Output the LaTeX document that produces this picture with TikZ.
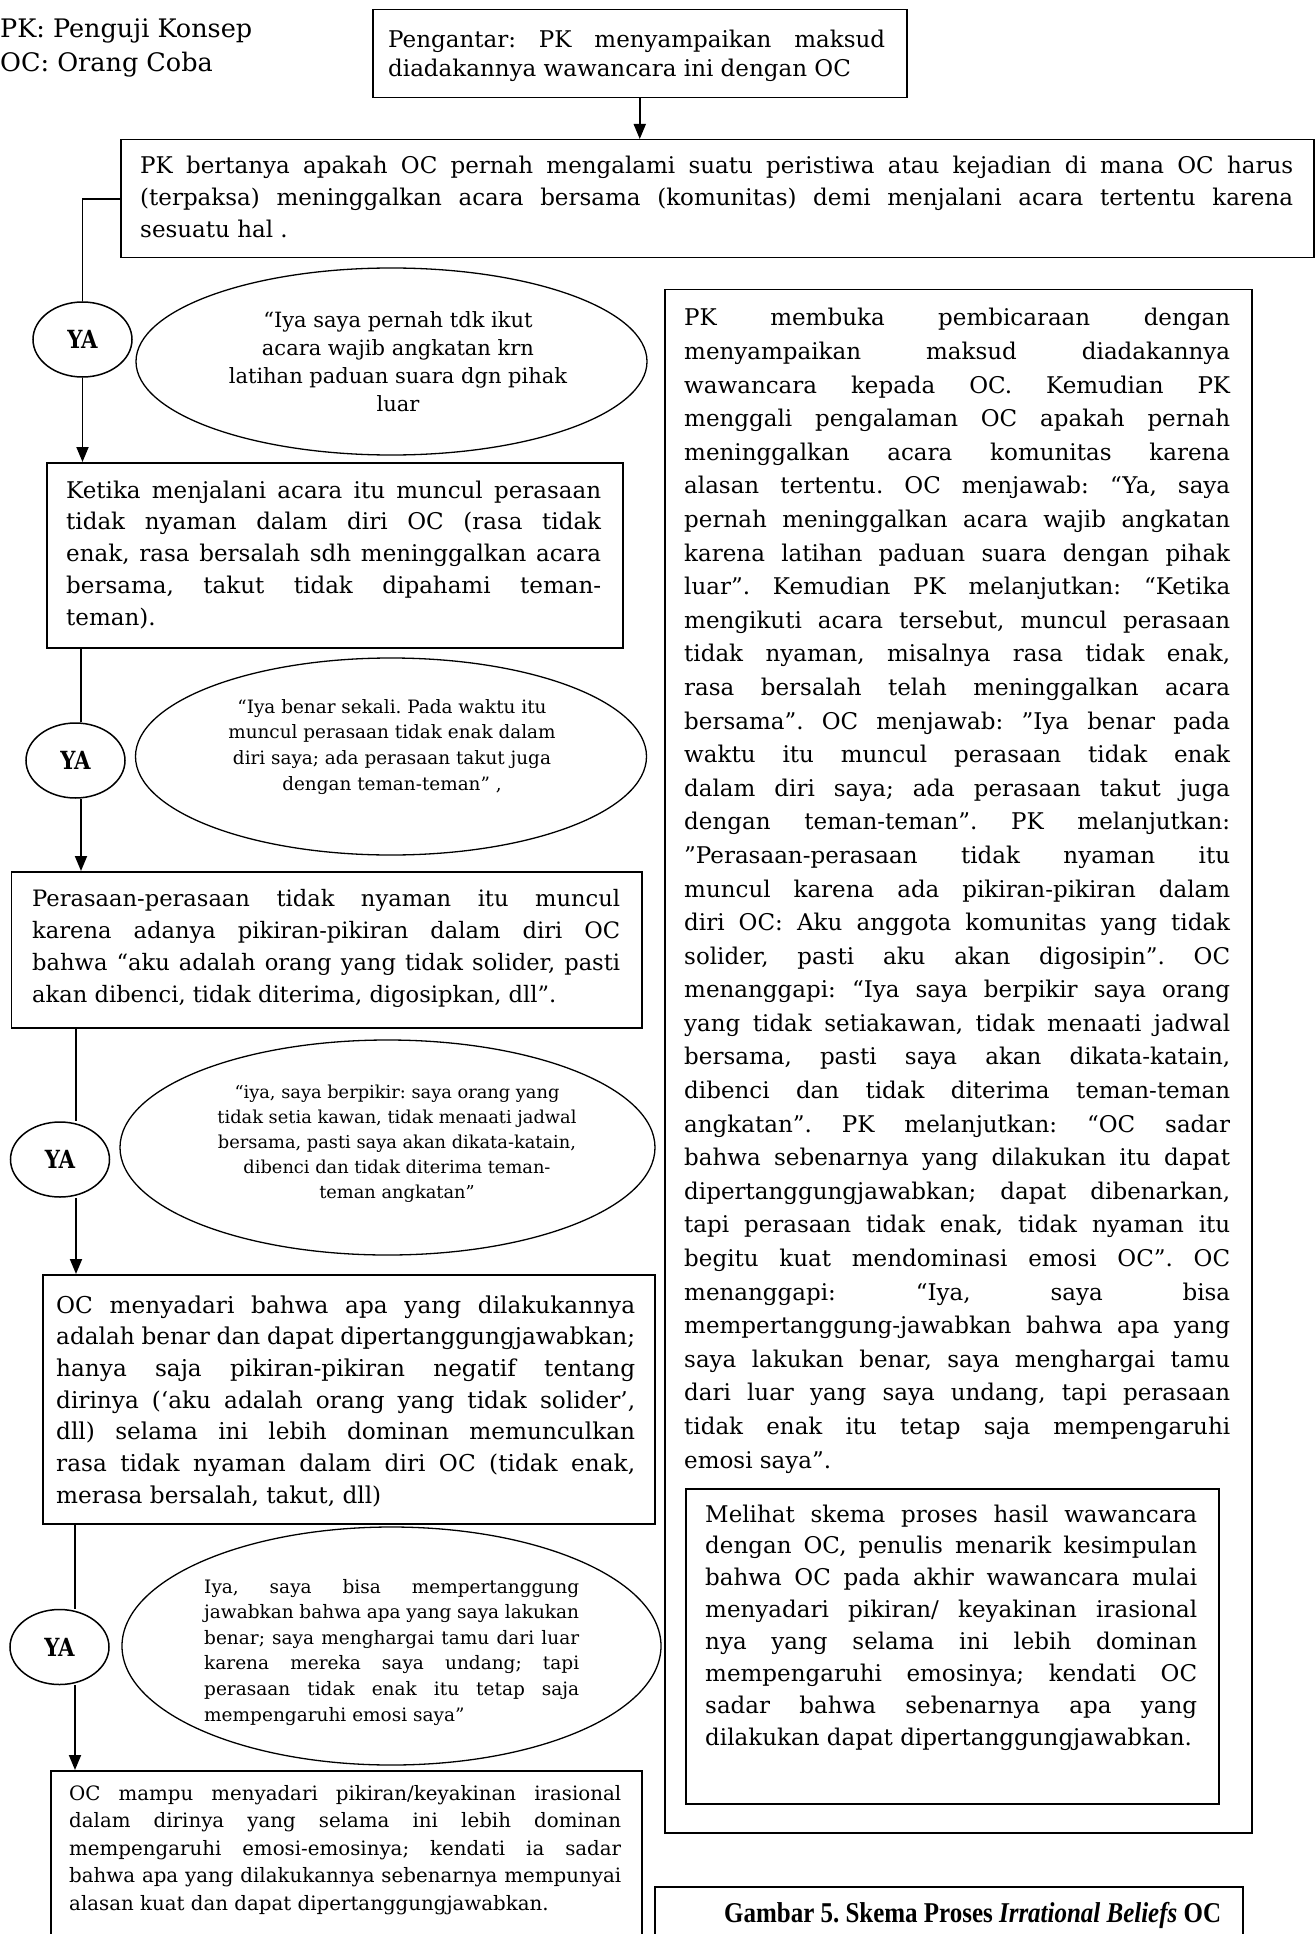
\documentclass[tikz,border=0pt]{standalone}
\usepackage{fontspec}
\setmainfont{DejaVu Serif}
\newfontfamily\capfont{Liberation Serif}
\usepackage{graphicx}
\usetikzlibrary{shapes.geometric,arrows.meta}
\newcommand{\setfs}[2]{\fontsize{#1pt}{#2pt}\selectfont}
\newcommand{\jl}[1]{\makebox[\linewidth][s]{#1}\\}
\newcommand{\yalabel}{\scalebox{0.85}[1]{\setfs{25}{25}\bfseries YA}}
\frenchspacing
\begin{document}
\frenchspacing
\begin{tikzpicture}[x=1pt,y=-1pt,
  box/.style={draw, line width=1.5pt, rectangle, inner sep=0pt, anchor=north west},
  ell/.style={draw, line width=1.3pt, ellipse, inner sep=0pt},
  yashape/.style={draw, line width=1.5pt, ellipse, inner sep=0pt, minimum width=99pt, minimum height=75pt},
  txt/.style={inner sep=0pt, anchor=base west},
  ctxt/.style={inner sep=0pt, anchor=base},
  conn/.style={line width=1.8pt},
  arr/.style={line width=1.8pt, -{Triangle[length=15pt,width=12pt]}}]
\useasboundingbox (0,0) rectangle (1315,1934);
\clip (0,0) rectangle (1315,1934);
\fill[white] (0,0) rectangle (1315,1934);

% legend
\node[txt] (legend) at (0,38) {\parbox[t]{300pt}{\setfs{25.5}{34}PK: Penguji Konsep\\OC: Orang Coba}};

% boxes
\node[box, minimum width=534pt, minimum height=88pt] (P) at (372,9) {};
\node[box, minimum width=1193pt, minimum height=118pt] (q) at (120,139) {};
\node[box, minimum width=576pt, minimum height=185pt] (b2) at (46,462) {};
\node[box, minimum width=630.5pt, minimum height=156pt] (b3) at (10.5,871) {};
\node[box, minimum width=612pt, minimum height=249pt] (b4) at (42,1274) {};
\node[box, minimum width=591pt, minimum height=200pt] (b5) at (50,1770) {};
\node[box, minimum width=587pt, minimum height=1543pt] (R) at (664,289) {};
\node[box, minimum width=533pt, minimum height=315pt] (I) at (685,1488) {};
\node[box, minimum width=588pt, minimum height=100pt] (C) at (654,1886) {};

% ellipses
\node[ell, minimum width=511pt, minimum height=187pt] (e1) at (391.5,361.5) {};
\node[ell, minimum width=511pt, minimum height=197pt] (e2) at (391,756.5) {};
\node[ell, minimum width=535pt, minimum height=215pt] (e3) at (387.5,1147.5) {};
\node[ell, minimum width=539pt, minimum height=238pt] (e4) at (391.5,1646) {};

% YA nodes
\node[yashape] (ya1) at (82.5,339.5) {\yalabel};
\node[yashape] (ya2) at (75.5,760.5) {\yalabel};
\node[yashape] (ya3) at (60,1159.5) {\yalabel};
\node[yashape] (ya4) at (59.5,1647) {\yalabel};

% texts
\node[txt] (Pt) at (388,48) {\parbox[t]{497pt}{\setfs{23}{29}%
\jl{Pengantar:  PK  menyampaikan  maksud}
diadakannya wawancara ini dengan OC}};

\node[txt] (qt) at (140,174) {\parbox[t]{1153pt}{\setfs{23}{32}%
\jl{PK bertanya apakah OC pernah mengalami suatu peristiwa atau kejadian di mana OC harus}
\jl{(terpaksa) meninggalkan acara bersama (komunitas) demi menjalani acara tertentu karena}
sesuatu hal .}};

\node[ctxt] (e1t) at (398,327) {\parbox[t]{420pt}{\centering\setfs{21}{28}%
“Iya saya pernah tdk ikut\\
acara wajib angkatan krn\\
latihan paduan suara dgn pihak\\
luar}};

\node[txt] (b2t) at (66,498) {\parbox[t]{535pt}{\setfs{23}{31.75}%
\jl{Ketika menjalani acara itu muncul perasaan}
\jl{tidak nyaman dalam diri OC (rasa tidak}
\jl{enak, rasa bersalah sdh meninggalkan acara}
\jl{bersama, takut tidak dipahami teman-}
teman).}};

\node[ctxt] (e2t) at (392,713) {\parbox[t]{420pt}{\centering\setfs{18.4}{25.7}%
“Iya benar sekali. Pada waktu itu\\
muncul perasaan tidak enak dalam\\
diri saya; ada perasaan takut juga\\
dengan teman-teman” ,}};

\node[txt] (b3t) at (32,906) {\parbox[t]{588pt}{\setfs{22.6}{32.3}%
\jl{Perasaan-perasaan tidak nyaman itu muncul}
\jl{karena adanya pikiran-pikiran dalam diri OC}
\jl{bahwa “aku adalah orang yang tidak solider, pasti}
akan dibenci, tidak diterima, digosipkan, dll”.}};

\node[ctxt] (e3t) at (397,1098) {\parbox[t]{440pt}{\centering\setfs{17.8}{25}%
“iya, saya berpikir: saya orang yang\\
tidak setia kawan, tidak menaati jadwal\\
bersama, pasti saya akan dikata-katain,\\
dibenci dan tidak diterima teman-\\
teman angkatan”}};

\node[txt] (b4t) at (56,1313) {\parbox[t]{579pt}{\setfs{23.2}{31.7}%
\jl{OC menyadari bahwa apa yang dilakukannya}
\jl{adalah benar dan dapat dipertanggungjawabkan;}
\jl{hanya saja pikiran-pikiran negatif tentang}
\jl{dirinya (‘aku adalah orang yang tidak solider’,}
\jl{dll) selama ini lebih dominan memunculkan}
\jl{rasa  tidak nyaman dalam diri OC (tidak enak,}
merasa bersalah, takut, dll)}};

\node[txt] (e4t) at (204,1593) {\parbox[t]{375pt}{\setfs{18.5}{25.6}%
\jl{Iya, saya bisa mempertanggung}
\jl{jawabkan bahwa apa yang saya lakukan}
\jl{benar; saya menghargai tamu dari luar}
\jl{karena mereka saya undang; tapi}
\jl{perasaan tidak enak itu tetap saja}
mempengaruhi emosi saya”}};

\node[txt] (b5t) at (69,1800) {\parbox[t]{552pt}{\setfs{19.8}{27.5}%
\jl{OC mampu menyadari pikiran/keyakinan irasional}
\jl{dalam dirinya yang selama ini lebih dominan}
\jl{mempengaruhi emosi-emosinya; kendati ia sadar}
\jl{bahwa apa yang dilakukannya sebenarnya mempunyai}
alasan kuat dan dapat dipertanggungjawabkan.}};

\node[txt] (Rt) at (684,326) {\parbox[t]{546pt}{\setfs{23}{33.59}%
\jl{PK membuka pembicaraan dengan}
\jl{menyampaikan maksud diadakannya}
\jl{wawancara kepada OC. Kemudian PK}
\jl{menggali pengalaman OC apakah pernah}
\jl{meninggalkan acara komunitas karena}
\jl{alasan tertentu. OC menjawab:  “Ya, saya}
\jl{pernah meninggalkan acara wajib angkatan}
\jl{karena latihan paduan suara dengan pihak}
\jl{luar”. Kemudian PK melanjutkan: “Ketika}
\jl{mengikuti acara tersebut, muncul perasaan}
\jl{tidak nyaman, misalnya rasa tidak enak,}
\jl{rasa bersalah telah meninggalkan acara}
\jl{bersama”. OC menjawab: ”Iya benar pada}
\jl{waktu itu muncul perasaan tidak enak}
\jl{dalam diri saya; ada perasaan takut juga}
\jl{dengan teman-teman”. PK melanjutkan:}
\jl{”Perasaan-perasaan tidak nyaman itu}
\jl{muncul karena ada pikiran-pikiran dalam}
\jl{diri OC:  Aku anggota komunitas yang tidak}
\jl{solider, pasti aku akan digosipin”. OC}
\jl{menanggapi: “Iya saya berpikir saya orang}
\jl{yang tidak setiakawan, tidak menaati jadwal}
\jl{bersama, pasti saya akan dikata-katain,}
\jl{dibenci dan tidak diterima teman-teman}
\jl{angkatan”. PK melanjutkan: “OC sadar}
\jl{bahwa sebenarnya yang dilakukan itu dapat}
\jl{dipertanggungjawabkan; dapat dibenarkan,}
\jl{tapi perasaan tidak enak, tidak nyaman itu}
\jl{begitu kuat mendominasi emosi OC”.  OC}
\jl{menanggapi: “Iya, saya bisa}
\jl{mempertanggung-jawabkan bahwa apa yang}
\jl{saya lakukan benar, saya menghargai tamu}
\jl{dari luar yang saya undang, tapi perasaan}
\jl{tidak enak itu tetap saja mempengaruhi}
emosi saya”.}};

\node[txt] (It) at (705,1522) {\parbox[t]{492pt}{\setfs{23}{31.9}%
\jl{Melihat skema proses hasil wawancara}
\jl{dengan OC, penulis menarik kesimpulan}
\jl{bahwa OC pada akhir wawancara mulai}
\jl{menyadari pikiran/ keyakinan irasional}
\jl{nya yang selama ini lebih dominan}
\jl{mempengaruhi emosinya; kendati OC}
\jl{sadar bahwa sebenarnya apa yang}
dilakukan dapat dipertanggungjawabkan.}};

\node[txt] (Ct) at (724,1922) {\scalebox{0.87}[1]{\capfont\bfseries\setfs{28.7}{30}Gambar 5. Skema Proses \textit{Irrational Beliefs} OC}};

% connectors
\coordinate (L2) at (81,0);
\coordinate (L3) at (76,0);
\coordinate (L4) at (75,0);
\draw[arr] (P.south) -- (q.north -| P.south);
\draw[conn] (q.west) -| (ya1.north);
\draw[arr] (ya1.south) -- (b2.north -| ya1.south);
\draw[conn] (b2.south -| L2) -- (ya2.north -| L2);
\draw[arr] (ya2.south -| L2) -- (b3.north -| L2);
\draw[conn] (b3.south -| L3) -- (ya3.north -| L3);
\draw[arr] (ya3.south -| L3) -- (b4.north -| L3);
\draw[conn] (b4.south -| L4) -- (ya4.north -| L4);
\draw[arr] (ya4.south -| L4) -- (b5.north -| L4);
\end{tikzpicture}
\end{document}
